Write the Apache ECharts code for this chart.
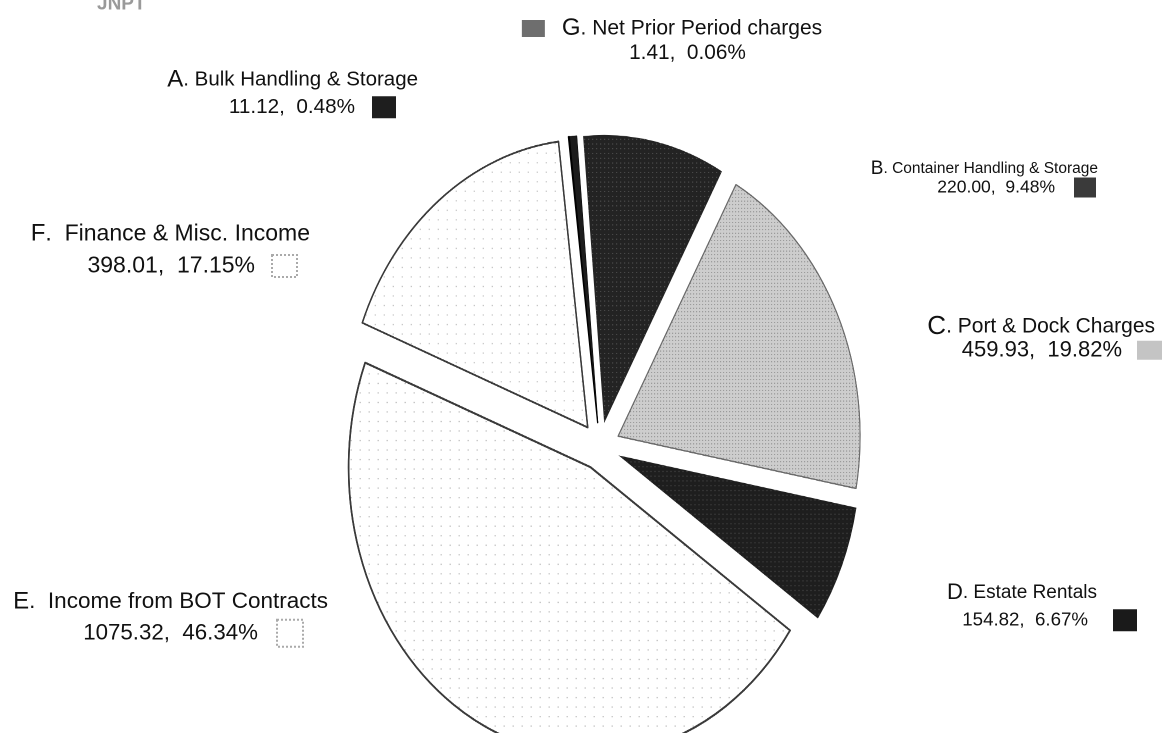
<!DOCTYPE html>
<html>
<head>
<meta charset="utf-8">
<script src="https://cdn.jsdelivr.net/npm/echarts@6/dist/echarts.min.js"></script>
<style>
html,body{margin:0;padding:0;background:#fff;overflow:hidden}
#wrap{width:1172px;height:733px;overflow:hidden;position:relative;background:#fff}
/* the original pie is drawn as an upright ellipse: stretch only the pie layer */
#pie{position:absolute;left:0;top:0;width:1172px;height:616px;transform:scaleY(1.19);transform-origin:0 0}
#labels{position:absolute;left:0;top:0;width:1172px;height:733px;pointer-events:none}
</style>
</head>
<body>
<div id="wrap"><div id="pie"></div><div id="labels"></div></div>
<script>
// ---------------- data ----------------
const chartTitle = 'JNPT';
const letters = ['A', 'B', 'C', 'D', 'E', 'F', 'G'];
const names = [
  'Bulk Handling & Storage',
  'Container Handling & Storage',
  'Port & Dock Charges',
  'Estate Rentals',
  'Income from BOT Contracts',
  'Finance & Misc. Income',
  'Net Prior Period charges'
];
const values = [11.12, 220.00, 459.93, 154.82, 1075.32, 398.01, 1.41];
// clockwise drawing order, starting just left of 12 o'clock
const sliceOrder = ['B', 'C', 'D', 'E', 'F', 'G', 'A'];

// ---------------- styles / layout ----------------
const FONT = "'Liberation Sans', Arial, sans-serif";
const sliceStyle = {
  A: { color: '#1c1c1c', borderColor: '#000', borderWidth: 0.5 },
  B: { color: '#232323', decal: { symbol: 'rect', symbolSize: 1, dashArrayX: [1, 3], dashArrayY: [1, 3], color: 'rgba(255,255,255,0.22)' } },
  C: { color: '#cdcdcd', borderColor: '#6a6a6a', borderWidth: 1, decal: { symbol: 'rect', symbolSize: 1, dashArrayX: [1, 2], dashArrayY: [1, 2], color: 'rgba(0,0,0,0.28)' } },
  D: { color: '#1e1e1e', decal: { symbol: 'rect', symbolSize: 1, dashArrayX: [1, 3], dashArrayY: [1, 3], color: 'rgba(255,255,255,0.2)' } },
  E: { color: '#ffffff', borderColor: '#3a3a3a', borderWidth: 1.6, decal: { symbol: 'rect', symbolSize: 1, dashArrayX: [1, 8], dashArrayY: [1, 7], color: 'rgba(0,0,0,0.35)' } },
  F: { color: '#ffffff', borderColor: '#3a3a3a', borderWidth: 1.4, decal: { symbol: 'rect', symbolSize: 1, dashArrayX: [1, 8], dashArrayY: [1, 7], color: 'rgba(0,0,0,0.3)' } },
  G: { color: '#111111', borderColor: '#000', borderWidth: 1.2 }
};
const swatchStyle = {
  A: { w: 24, h: 22, fill: '#1e1e1e' },
  B: { w: 22, h: 20, fill: '#3a3a3a' },
  C: { w: 25, h: 19, fill: '#c4c4c4' },
  D: { w: 24, h: 22, fill: '#1a1a1a' },
  E: { w: 26, h: 27, fill: 'transparent', border: '#aaaaaa' },
  F: { w: 25, h: 22, fill: 'transparent', border: '#aaaaaa' },
  G: { w: 23, h: 17, fill: '#6e6e6e' }
};
// label anchor (x = right edge or centre, y = top), line height, font sizes, spacers
const labelLayoutCfg = {
  A: { x: 418, y: 66, align: 'right', lh: 27.5, lt: 24, nm: 20.5, val: 20.7, namePad: 0, valPad: 22, gap: 17, sep: '. ' },
  B: { x: 1098, y: 160, align: 'right', lh: 17.5, lt: 19, nm: 15.5, val: 17.5, namePad: 0, valPad: 2, gap: 19, sep: '. ' },
  C: { x: 1162, y: 315, align: 'right', lh: 23.5, lt: 26, nm: 21, val: 22, namePad: 7, valPad: 0, gap: 15, sep: '. ' },
  D: { x: 1137, y: 579, align: 'right', lh: 27.5, lt: 22, nm: 19, val: 18.7, namePad: 40, valPad: 0, gap: 25, sep: '. ' },
  E: { x: 328, y: 586, align: 'right', lh: 31.5, lt: 24, nm: 22.5, val: 22.3, namePad: 0, valPad: 25, gap: 19, sep: '.  ' },
  F: { x: 310, y: 218, align: 'right', lh: 32, lt: 24, nm: 23, val: 23, namePad: 0, valPad: 13, gap: 17, sep: '.  ' },
  G: { x: 672, y: 16, align: 'center', lh: 25, lt: 24, nm: 21, val: 20.8, namePad: 0, valPad: 31, gap: 17, sep: '. ' }
};

function buildRich(letter) {
  const c = labelLayoutCfg[letter];
  const s = swatchStyle[letter];
  const base = { fontFamily: FONT, color: '#111', lineHeight: c.lh };
  return {
    lt: Object.assign({}, base, { fontSize: c.lt }),
    nm: Object.assign({}, base, { fontSize: c.nm }),
    val: Object.assign({}, base, { fontSize: c.val }),
    np: { width: c.namePad, lineHeight: c.lh },
    vp: { width: c.valPad, lineHeight: c.lh },
    gap: { width: c.gap, lineHeight: c.lh },
    sw: {
      width: s.w, height: s.h, backgroundColor: s.fill,
      borderColor: s.border || 'transparent', borderWidth: s.border ? 1 : 0,
      borderType: 'dotted'
    }
  };
}

function buildFormatter(letter, name) {
  const c = labelLayoutCfg[letter];
  return function (p) {
    const valText = p.value.toFixed(2) + ',  ' + p.percent.toFixed(2) + '%';
    if (letter === 'G') {
      return '{sw|}{gap|}{lt|' + letter + '}{nm|' + c.sep + name + '}\n{vp|}{val|' + valText + '}';
    }
    return '{lt|' + letter + '}{nm|' + c.sep + name + '}{np|}\n{val|' + valText + '}{gap|}{sw|}{vp|}';
  };
}

// exploded slices (drawn)
const sliceData = sliceOrder.map(function (letter) {
  const i = letters.indexOf(letter);
  const st = sliceStyle[letter];
  const itemStyle = { color: st.color, borderColor: st.borderColor || st.color, borderWidth: st.borderWidth || 0 };
  if (st.decal) itemStyle.decal = st.decal;
  return { name: letter, value: values[i], selected: true, itemStyle: itemStyle };
});
// same data, invisible, carrying the labels
const labelData = sliceOrder.map(function (letter) {
  const i = letters.indexOf(letter);
  return {
    name: letter,
    value: values[i],
    label: { formatter: buildFormatter(letter, names[i]), rich: buildRich(letter) }
  };
});

const START_ANGLE = 95;

const pieChart = echarts.init(document.getElementById('pie'), null, { renderer: 'canvas', devicePixelRatio: 2 });
pieChart.setOption({
  animation: false,
  backgroundColor: '#ffffff',
  series: [{
    type: 'pie',
    center: [600, 375],
    radius: 242,
    startAngle: START_ANGLE,
    clockwise: true,
    selectedMode: 'multiple',
    selectedOffset: 20,
    silent: true,
    emphasis: { disabled: true },
    label: { show: false },
    labelLine: { show: false },
    data: sliceData
  }]
});

const labelChart = echarts.init(document.getElementById('labels'), null, { renderer: 'canvas', devicePixelRatio: 2 });
labelChart.setOption({
  animation: false,
  backgroundColor: 'transparent',
  graphic: [{
    type: 'text', left: 97, top: -5,
    style: { text: chartTitle, font: "bold 19px " + FONT, fill: '#9a9a9a' }
  }],
  series: [{
    type: 'pie',
    center: [600, 446],
    radius: 242,
    startAngle: START_ANGLE,
    clockwise: true,
    percentPrecision: 2,
    selectedMode: false,
    silent: true,
    avoidLabelOverlap: false,
    minShowLabelAngle: 0,
    emphasis: { disabled: true },
    itemStyle: { color: 'rgba(0,0,0,0)', borderWidth: 0 },
    label: { show: true, position: 'outside', color: '#111', fontFamily: FONT },
    labelLine: { show: false },
    labelLayout: function (params) {
      const letter = sliceOrder[params.dataIndex];
      const c = labelLayoutCfg[letter];
      return { x: c.x, y: c.y, align: c.align, verticalAlign: 'top' };
    },
    data: labelData
  }]
});
</script>
</body>
</html>
